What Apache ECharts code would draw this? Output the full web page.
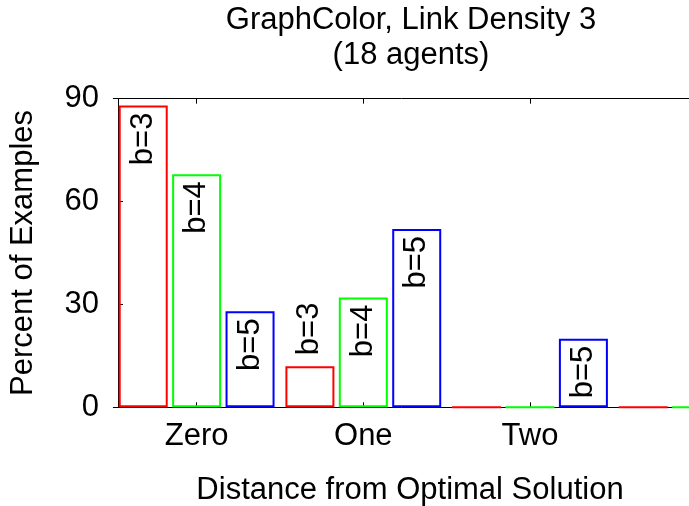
<!DOCTYPE html>
<html>
<head>
<meta charset="utf-8">
<script src="https://cdn.jsdelivr.net/npm/echarts@6/dist/echarts.min.js"></script>
<style>
  html, body { margin: 0; padding: 0; background: #ffffff; }
  #chart { width: 689px; height: 506px; }
</style>
</head>
<body>
<div id="chart"></div>
<script>
// ---- data ----
const categories = ['Zero', 'One', 'Two', ''];
const seriesNames = ['b=3', 'b=4', 'b=5'];
const b3Values = [88, 12, 0, 0];
const b4Values = [68, 32, 0, 0];
const b5Values = [28, 52, 20, 0];
const yTicks = [0, 30, 60, 90];
const titleText = 'GraphColor, Link Density 3\n(18 agents)';
const xAxisTitle = 'Distance from Optimal Solution';
const yAxisTitle = 'Percent of Examples';

const FONT = 'Liberation Sans, Arial, Helvetica, sans-serif';
const FS = 31;
const colors = ['#ff0000', '#00ff00', '#0000ff'];
const seriesValues = [b3Values, b4Values, b5Values];

function buildData(values, name) {
  return values.map(function (v) {
    let label;
    if (v <= 0) {
      label = { show: false };
    } else if (v < 18) {
      label = { show: true, position: 'top', distance: 11, rotate: 90,
                align: 'left', verticalAlign: 'middle' };
    } else {
      label = { show: true, position: 'insideTop', distance: 7, rotate: 90,
                align: 'right', verticalAlign: 'middle' };
    }
    return { value: v, label: label };
  });
}

const series = seriesNames.map(function (name, i) {
  return {
    name: name,
    type: 'bar',
    barWidth: 49,
    barGap: '9%',
    data: buildData(seriesValues[i], name),
    itemStyle: { color: 'rgba(255,255,255,0)', borderColor: colors[i], borderWidth: 2 },
    label: {
      formatter: name,
      color: '#000',
      fontFamily: FONT,
      fontSize: FS
    },
    emphasis: { disabled: true },
    animation: false
  };
});

const chart = echarts.init(document.getElementById('chart'), null, { renderer: 'canvas' });
chart.setOption({
  backgroundColor: '#ffffff',
  animation: false,
  title: [
    {
      text: titleText,
      left: 406,
      top: -1.5,
      textAlign: 'center',
      textStyle: { fontFamily: FONT, fontSize: FS, fontWeight: 'normal', color: '#000', lineHeight: 34.5 }
    },
    {
      text: xAxisTitle,
      left: 405,
      top: 469.5,
      textAlign: 'center',
      textStyle: { fontFamily: FONT, fontSize: FS, fontWeight: 'normal', color: '#000' }
    }
  ],
  grid: { left: 113.3, width: 666.7, top: 98.7, height: 308.6, outerBoundsMode: 'none', containLabel: false },
  xAxis: [
    {
      type: 'category',
      data: categories,
      position: 'bottom',
      axisLine: { show: true, lineStyle: { color: '#000', width: 1 } },
      axisTick: { show: true, inside: true, length: 5, alignWithLabel: true, lineStyle: { color: '#000' } },
      axisLabel: { color: '#000', fontFamily: FONT, fontSize: FS, margin: 14, interval: 0 },
      splitLine: { show: false }
    },
    {
      type: 'category',
      data: categories,
      position: 'top',
      axisLine: { show: true, lineStyle: { color: '#000', width: 1 } },
      axisTick: { show: true, inside: true, length: 5, alignWithLabel: true, lineStyle: { color: '#000' } },
      axisLabel: { show: false },
      splitLine: { show: false }
    }
  ],
  yAxis: {
    type: 'value',
    min: yTicks[0],
    max: yTicks[yTicks.length - 1],
    interval: yTicks[1] - yTicks[0],
    offset: -4.7,
    name: yAxisTitle,
    nameLocation: 'middle',
    nameGap: 79,
    nameRotate: 90,
    nameTextStyle: { fontFamily: FONT, fontSize: FS, color: '#000' },
    axisLine: { show: true, lineStyle: { color: '#000', width: 1 } },
    axisTick: { show: true, inside: true, length: 5, lineStyle: { color: '#000' } },
    axisLabel: { color: '#000', fontFamily: FONT, fontSize: FS, margin: 19 },
    splitLine: { show: false }
  },
  series: series
});
</script>
</body>
</html>
